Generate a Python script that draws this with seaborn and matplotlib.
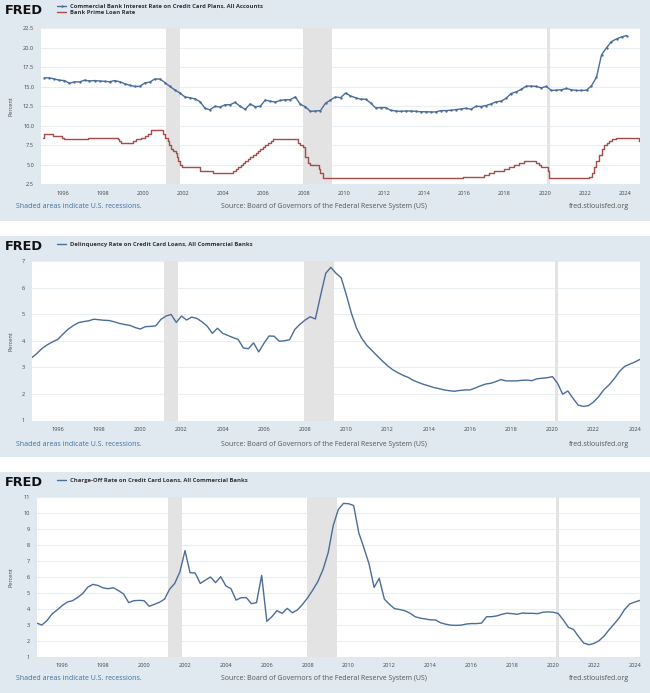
import numpy as np
import pandas as pd
import seaborn as sns
import matplotlib.pyplot as plt
from matplotlib.patches import Rectangle

# ---- data ----
# Commercial bank interest rate on credit card plans, quarterly from Feb 1995
cc_rate = [16.15, 16.15, 16.0, 15.85, 15.8, 15.45, 15.63, 15.63, 15.85, 15.75,
           15.8, 15.75, 15.7, 15.65, 15.8, 15.65, 15.4, 15.2, 15.05, 15.05,
           15.5, 15.6, 16.0, 16.0, 15.55, 15.05, 14.6, 14.2, 13.7, 13.6,
           13.45, 13.1, 12.25, 12.05, 12.5, 12.4, 12.7, 12.7, 13.0, 12.5,
           12.1, 12.8, 12.45, 12.5, 13.3, 13.15, 13.05, 13.25, 13.35, 13.35,
           13.7, 12.75, 12.45, 11.85, 11.9, 11.95, 12.9, 13.3, 13.7, 13.6,
           14.2, 13.84, 13.6, 13.41, 13.41, 12.94, 12.3, 12.34, 12.34, 11.99,
           11.9, 11.85, 11.9, 11.9, 11.85, 11.8, 11.8, 11.78, 11.78, 11.95,
           11.95, 11.99, 12.08, 12.16, 12.25, 12.12, 12.51, 12.47, 12.6, 12.81,
           13.07, 13.16, 13.54, 14.14, 14.35, 14.66, 15.09, 15.09, 15.05, 14.87,
           15.05, 14.53, 14.57, 14.62, 14.79, 14.62, 14.53, 14.53, 14.57, 15.13,
           16.2, 19.1, 20.02, 20.8, 21.14, 21.4, 21.57]
cc_start = "1995-02-01"

# Bank prime loan rate, change dates
prime_dates = ["1995-01-01", "1995-02-01", "1995-07-07", "1995-12-20", "1996-02-01",
               "1997-03-26", "1998-09-30", "1998-10-16", "1998-11-18", "1999-07-01",
               "1999-08-25", "1999-11-17", "2000-02-03", "2000-03-22", "2000-05-17",
               "2001-01-04", "2001-02-01", "2001-03-21", "2001-04-19", "2001-05-16",
               "2001-06-28", "2001-08-22", "2001-09-18", "2001-10-03", "2001-11-07",
               "2001-12-12", "2002-11-07", "2003-06-27", "2004-07-01", "2004-08-11",
               "2004-09-22", "2004-11-11", "2004-12-15", "2005-02-03", "2005-03-23",
               "2005-05-04", "2005-07-01", "2005-08-10", "2005-09-21", "2005-11-02",
               "2005-12-14", "2006-02-01", "2006-03-29", "2006-05-11", "2006-06-30",
               "2007-09-19", "2007-11-01", "2007-12-12", "2008-01-22", "2008-01-31",
               "2008-03-19", "2008-05-01", "2008-10-08", "2008-10-30", "2008-12-16",
               "2015-12-17", "2016-12-15", "2017-03-16", "2017-06-15", "2017-12-14",
               "2018-03-22", "2018-06-14", "2018-09-27", "2018-12-20", "2019-08-01",
               "2019-09-19", "2019-10-31", "2020-03-04", "2020-03-16", "2022-03-17",
               "2022-05-05", "2022-06-16", "2022-07-28", "2022-09-22", "2022-11-03",
               "2022-12-15", "2023-02-02", "2023-03-23", "2023-05-04", "2023-07-27",
               "2024-09-19", "2024-10-01"]
prime_rate = [8.5, 9.0, 8.75, 8.5, 8.25,
              8.5, 8.25, 8.0, 7.75, 8.0,
              8.25, 8.5, 8.75, 9.0, 9.5,
              9.0, 8.5, 8.0, 7.5, 7.0,
              6.75, 6.5, 6.0, 5.5, 5.0,
              4.75, 4.25, 4.0, 4.25, 4.5,
              4.75, 5.0, 5.25, 5.5, 5.75,
              6.0, 6.25, 6.5, 6.75, 7.0,
              7.25, 7.5, 7.75, 8.0, 8.25,
              7.75, 7.5, 7.25, 6.5, 6.0,
              5.25, 5.0, 4.5, 4.0, 3.25,
              3.5, 3.75, 4.0, 4.25, 4.5,
              4.75, 5.0, 5.25, 5.5, 5.25,
              5.0, 4.75, 4.25, 3.25, 3.5,
              4.0, 4.75, 5.5, 6.25, 7.0,
              7.5, 7.75, 8.0, 8.25, 8.5,
              8.0, 8.0]

# Delinquency rate on credit card loans, quarterly from 1994Q4
delinq = [3.37, 3.53, 3.72, 3.85, 3.96, 4.05, 4.25, 4.43, 4.57, 4.68,
          4.72, 4.75, 4.81, 4.79, 4.77, 4.76, 4.71, 4.65, 4.61, 4.58,
          4.5, 4.44, 4.53, 4.54, 4.56, 4.8, 4.93, 4.99, 4.69, 4.93,
          4.78, 4.89, 4.84, 4.71, 4.55, 4.28, 4.47, 4.28, 4.2, 4.12,
          4.05, 3.73, 3.7, 3.92, 3.58, 3.9, 4.18, 4.17, 3.98, 4.0,
          4.04, 4.42, 4.62, 4.78, 4.9, 4.82, 5.7, 6.54, 6.76, 6.54,
          6.37, 5.72, 5.03, 4.47, 4.09, 3.82, 3.63, 3.43, 3.24, 3.06,
          2.91, 2.8, 2.7, 2.62, 2.51, 2.43, 2.36, 2.3, 2.24, 2.2,
          2.15, 2.12, 2.1, 2.13, 2.15, 2.15, 2.22, 2.3, 2.37, 2.4,
          2.46, 2.54, 2.49, 2.49, 2.49, 2.51, 2.52, 2.5, 2.57, 2.59,
          2.61, 2.65, 2.4, 1.99, 2.11, 1.83, 1.58, 1.53, 1.56, 1.7,
          1.9, 2.16, 2.34, 2.57, 2.84, 3.03, 3.12, 3.2, 3.3]

# Charge-off rate on credit card loans, quarterly from 1994Q4
chargeoff = [3.1, 2.98, 3.25, 3.67, 3.92, 4.2, 4.42, 4.5, 4.7, 4.95,
             5.35, 5.52, 5.45, 5.3, 5.25, 5.31, 5.13, 4.92, 4.38, 4.5,
             4.52, 4.5, 4.15, 4.27, 4.4, 4.6, 5.22, 5.58, 6.3, 7.63,
             6.25, 6.23, 5.58, 5.79, 5.98, 5.63, 6.0, 5.42, 5.25, 4.54,
             4.69, 4.69, 4.31, 4.38, 6.08, 3.21, 3.5, 3.88, 3.71, 4.02,
             3.75, 3.92, 4.27, 4.69, 5.17, 5.7, 6.45, 7.5, 9.2, 10.2,
             10.58, 10.56, 10.45, 8.75, 7.8, 6.8, 5.33, 5.9, 4.6, 4.27,
             4.0, 3.95, 3.87, 3.72, 3.5, 3.41, 3.36, 3.3, 3.3, 3.12,
             3.03, 2.97, 2.96, 2.97, 3.04, 3.07, 3.07, 3.1, 3.5, 3.5,
             3.55, 3.65, 3.72, 3.69, 3.65, 3.73, 3.71, 3.71, 3.69, 3.78,
             3.8, 3.78, 3.7, 3.3, 2.83, 2.7, 2.25, 1.85, 1.75, 1.83,
             2.0, 2.3, 2.7, 3.07, 3.45, 3.95, 4.3, 4.42, 4.52]
q_start = "1994-10-01"

recessions = [("2001-03-01", "2001-11-01"), ("2007-12-20", "2009-06-01"),
              ("2020-02-15", "2020-04-10")]

labels_top = ["Commercial Bank Interest Rate on Credit Card Plans, All Accounts",
              "Bank Prime Loan Rate"]
label_mid = "Delinquency Rate on Credit Card Loans, All Commercial Banks"
label_bot = "Charge-Off Rate on Credit Card Loans, All Commercial Banks"

# ---- style ----
sns.set_style("white")
plt.rcParams["font.family"] = ["Open Sans", "DejaVu Sans"]

BG = "#e1e9f0"
BLUE = "#4a6d99"
RED = "#a84b48"
SHADE = "#e3e3e3"
GRID = "#e9eef3"
W, H = 650.0, 693.0

fig = plt.figure(figsize=(6.5, 6.93), dpi=100)
fig.patch.set_facecolor("white")


def fy(py):
    return 1 - py / H


def add_axes(left, top, right, bottom):
    return fig.add_axes([left / W, fy(bottom), (right - left) / W, (bottom - top) / H])


def style_axes(ax, xlim, yticks, yfmt):
    ax.set_facecolor("white")
    for s in ax.spines.values():
        s.set_visible(False)
    for a, b in recessions:
        ax.axvspan(pd.Timestamp(a), pd.Timestamp(b), color=SHADE, lw=0, zorder=1)
    ax.set_axisbelow(True)
    ax.yaxis.grid(True, color=GRID, lw=0.8)
    ax.xaxis.grid(False)
    ax.set_xlim(pd.Timestamp(xlim[0]), pd.Timestamp(xlim[1]))
    ax.set_ylim(yticks[0], yticks[-1])
    ax.set_yticks(yticks)
    ax.set_yticklabels([yfmt.format(v) for v in yticks])
    years = list(range(1996, 2025, 2))
    ax.set_xticks([pd.Timestamp(f"{y}-01-01") for y in years])
    ax.set_xticklabels([str(y) for y in years])
    ax.tick_params(axis="both", length=0, labelsize=4.1, colors="#444444")
    ax.tick_params(axis="x", pad=4.5)
    ax.tick_params(axis="y", pad=5)
    ax.set_xlabel("")
    ax.set_ylabel("")


def panel_frame(top, bot, ax_top, ax_bot, note_y, logo_y):
    fig.add_artist(Rectangle((0, fy(bot)), 1, (bot - top) / H, transform=fig.transFigure,
                             color=BG, lw=0, zorder=-5))
    fig.text(5 / W, fy(logo_y), "FRED", fontsize=9.3, fontweight="heavy",
             family=["DejaVu Sans"], color="#111111", va="center", ha="left")
    fig.text(11 / W, fy((ax_top + ax_bot) / 2), "Percent", rotation=90,
             fontsize=4.0, color="#444444", ha="center", va="center")
    fig.text(16 / W, fy(note_y), "Shaded areas indicate U.S. recessions.",
             fontsize=5.0, color="#3c6ea5", va="center")
    fig.text(221 / W, fy(note_y),
             "Source: Board of Governors of the Federal Reserve System (US)",
             fontsize=5.0, color="#555555", va="center")
    fig.text(629 / W, fy(note_y), "fred.stlouisfed.org", fontsize=5.0,
             color="#555555", va="center", ha="right")


# ---- panel 1 ----
panel_frame(0, 221, 28.3, 184.3, 207, 10)
ax1 = add_axes(41, 28.3, 640, 184.3)
cc_dates = pd.date_range(cc_start, periods=len(cc_rate), freq="3MS")
sns.lineplot(x=cc_dates, y=cc_rate, ax=ax1, color=BLUE, lw=1.0, marker="o",
             markersize=1.7, markeredgewidth=0, estimator=None, zorder=3)
sns.lineplot(x=pd.to_datetime(prime_dates), y=prime_rate, ax=ax1, color=RED, lw=1.0,
             drawstyle="steps-post", estimator=None, zorder=3)
style_axes(ax1, ("1994-12-01", "2024-10-01"), [2.5, 5.0, 7.5, 10.0, 12.5, 15.0, 17.5, 20.0, 22.5], "{:.1f}")
leg1 = ax1.legend(ax1.lines[:2], labels_top, loc="upper left",
                  bbox_to_anchor=(57 / W, fy(4)), bbox_transform=fig.transFigure,
                  frameon=False, handlelength=1.6, handletextpad=0.6,
                  labelspacing=0.15, borderpad=0, borderaxespad=0,
                  prop={"size": 4.2, "weight": "bold"})
for t in leg1.get_texts():
    t.set_color("#333333")

# ---- panel 2 ----
panel_frame(236, 457, 261, 420.5, 444, 246)
ax2 = add_axes(32, 261, 640, 420.5)
q_dates = pd.date_range(q_start, periods=len(delinq), freq="3MS")
sns.lineplot(x=q_dates, y=delinq, ax=ax2, color=BLUE, lw=1.0, estimator=None, zorder=3)
style_axes(ax2, ("1994-10-01", "2024-04-01"), [1, 2, 3, 4, 5, 6, 7], "{:d}")
leg2 = ax2.legend(ax2.lines[:1], [label_mid], loc="upper left",
                  bbox_to_anchor=(57 / W, fy(241.5)), bbox_transform=fig.transFigure,
                  frameon=False, handlelength=1.6, handletextpad=0.6,
                  borderpad=0, borderaxespad=0, prop={"size": 4.2, "weight": "bold"})
for t in leg2.get_texts():
    t.set_color("#333333")

# ---- panel 3 ----
panel_frame(472, 693, 496.7, 656.7, 678, 482)
ax3 = add_axes(36.7, 496.7, 640, 656.7)
c_dates = pd.date_range(q_start, periods=len(chargeoff), freq="3MS")
sns.lineplot(x=c_dates, y=chargeoff, ax=ax3, color=BLUE, lw=1.0, estimator=None, zorder=3)
style_axes(ax3, ("1994-10-01", "2024-04-01"), list(range(1, 12)), "{:d}")
leg3 = ax3.legend(ax3.lines[:1], [label_bot], loc="upper left",
                  bbox_to_anchor=(57 / W, fy(477.5)), bbox_transform=fig.transFigure,
                  frameon=False, handlelength=1.6, handletextpad=0.6,
                  borderpad=0, borderaxespad=0, prop={"size": 4.2, "weight": "bold"})
for t in leg3.get_texts():
    t.set_color("#333333")

fig.savefig("out.png", dpi=100)
